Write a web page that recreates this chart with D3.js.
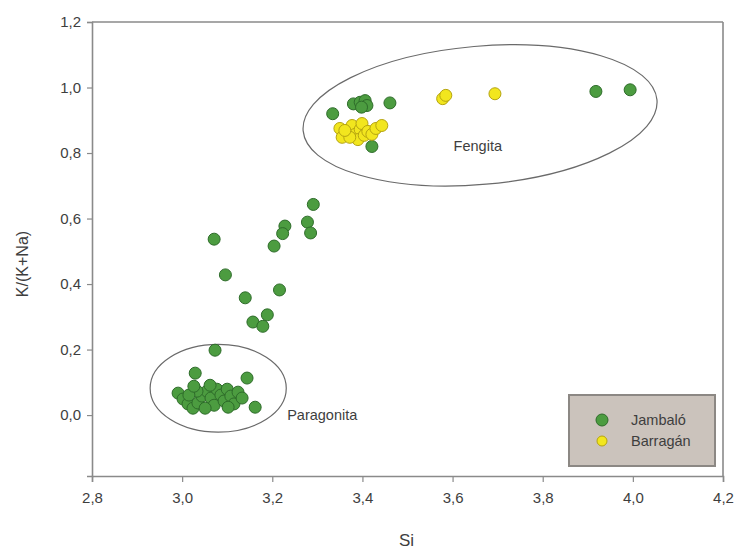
<!DOCTYPE html>
<html>
<head>
<meta charset="utf-8">
<script src="https://cdn.jsdelivr.net/npm/d3@7"></script>
<style>
  html, body { margin: 0; padding: 0; background: #fff; }
  svg { display: block; font-family: "Liberation Sans", Arial, sans-serif; }
  .tick text { font-size: 15px; font-family: "Liberation Sans", Arial, sans-serif; }
</style>
</head>
<body>
<svg id="chart" width="740" height="552"></svg>
<script>
// Si vs K/(K+Na) for white micas, two localities
const jambaloSi = [
  3.291, 3.228, 3.223, 3.278, 3.285, 3.071, 3.204, 3.096, 3.216, 3.140, 3.189, 3.157, 3.179,
  3.334, 3.380, 3.395, 3.406, 3.410, 3.398, 3.461, 3.421, 3.918, 3.994,
  2.991, 3.002, 3.013, 3.024, 3.035, 3.044, 3.055, 3.064, 3.071, 3.077, 3.086, 3.093, 3.100,
  3.108, 3.115, 3.124, 3.133, 3.033, 3.051, 3.015, 3.102, 3.062, 3.026,
  3.073, 3.029, 3.144, 3.162
];
const jambaloK = [
  0.643, 0.577, 0.554, 0.589, 0.556, 0.537, 0.516, 0.428, 0.382, 0.358, 0.306, 0.284, 0.271,
  0.920, 0.950, 0.955, 0.960, 0.945, 0.940, 0.953, 0.820, 0.988, 0.993,
  0.067, 0.049, 0.034, 0.021, 0.037, 0.058, 0.073, 0.052, 0.030, 0.079, 0.061, 0.043, 0.079,
  0.058, 0.034, 0.070, 0.052, 0.073, 0.021, 0.061, 0.024, 0.091, 0.088,
  0.198, 0.128, 0.113, 0.024
];
const barraganSi = [
  3.350, 3.355, 3.368, 3.377, 3.384, 3.395, 3.399, 3.390, 3.404, 3.412, 3.421, 3.430, 3.443,
  3.372, 3.361, 3.578, 3.585, 3.694
];
const barraganK = [
  0.875, 0.848, 0.866, 0.884, 0.857, 0.872, 0.890, 0.841, 0.854, 0.866, 0.857, 0.875, 0.884,
  0.848, 0.869, 0.966, 0.976, 0.981
];

const seriesNames = ["Jambaló", "Barragán"];
const xTicks = [2.8, 3.0, 3.2, 3.4, 3.6, 3.8, 4.0, 4.2];
const yTicks = [0.0, 0.2, 0.4, 0.6, 0.8, 1.0, 1.2];

// Field outlines: centre (Si, K/(K+Na)), half-widths, tilt in degrees
const fieldNames = ["Paragonita", "Fengita"];
const fieldCx = [3.080, 3.661];
const fieldCy = [0.082, 0.915];
const fieldRx = [0.151, 0.394];
const fieldRy = [0.134, 0.211];
const fieldTilt = [0, -5];
const fieldLabelX = [3.233, 3.656];
const fieldLabelY = [0.0, 0.82];

const svg = d3.select("#chart");
const plotLeft = 92, plotRight = 723, plotTop = 22, plotBottom = 476;

const x = d3.scaleLinear().domain([2.8, 4.2]).range([plotLeft, plotRight]);
const y = d3.scaleLinear().domain([-0.186, 1.2]).range([plotBottom, plotTop]);

const axisColor = "#8a8a8a";
const textColor = "#3e3e3e";
const fmt = d => d3.format(".1f")(d).replace(".", ",");

// Frame (top and right)
svg.append("line").attr("x1", plotLeft).attr("x2", plotRight).attr("y1", plotTop).attr("y2", plotTop)
  .attr("stroke", axisColor).attr("stroke-width", 1.6);
svg.append("line").attr("x1", plotRight).attr("x2", plotRight).attr("y1", plotTop).attr("y2", plotBottom)
  .attr("stroke", axisColor).attr("stroke-width", 1.6);

// Axes
const gx = svg.append("g").attr("transform", `translate(0,${plotBottom})`)
  .call(d3.axisBottom(x).tickValues(xTicks).tickFormat(fmt).tickSize(6).tickPadding(10));
const gy = svg.append("g").attr("transform", `translate(${plotLeft},0)`)
  .call(d3.axisLeft(y).tickValues(yTicks).tickFormat(fmt).tickSize(5).tickPadding(6));
[gx, gy].forEach(g => {
  g.attr("font-size", null).attr("font-family", null);
  g.select(".domain").attr("stroke", axisColor).attr("stroke-width", 1.6);
  g.selectAll(".tick line").attr("stroke", axisColor).attr("stroke-width", 1.2);
  g.selectAll(".tick text").attr("fill", textColor);
});

// Axis titles
svg.append("text").attr("x", (plotLeft + plotRight) / 2 - 1).attr("y", 546)
  .attr("text-anchor", "middle").attr("fill", textColor).attr("font-size", 17).text("Si");
svg.append("text").attr("transform", `translate(28,264) rotate(-90)`)
  .attr("text-anchor", "middle").attr("fill", textColor).attr("font-size", 16).text("K/(K+Na)");

// Field ellipses
fieldNames.forEach((name, i) => {
  const cx = x(fieldCx[i]), cy = y(fieldCy[i]);
  svg.append("ellipse")
    .attr("cx", cx).attr("cy", cy)
    .attr("rx", x(fieldCx[i] + fieldRx[i]) - cx)
    .attr("ry", cy - y(fieldCy[i] + fieldRy[i]))
    .attr("transform", `rotate(${fieldTilt[i]},${cx},${cy})`)
    .attr("fill", "none").attr("stroke", "#6a6a6a").attr("stroke-width", 1.2);
  svg.append("text")
    .attr("x", x(fieldLabelX[i])).attr("y", y(fieldLabelY[i]) + 5)
    .attr("text-anchor", i === 0 ? "start" : "middle")
    .attr("fill", textColor).attr("font-size", 14.5).text(name);
});

// Points
const styles = [
  { fill: "#4c9c40", stroke: "#2e6c2a" },
  { fill: "#f2e61e", stroke: "#b5a410" }
];
const series = [
  d3.zip(jambaloSi, jambaloK),
  d3.zip(barraganSi, barraganK)
];
series.forEach((pts, i) => {
  svg.append("g").selectAll("circle").data(pts).join("circle")
    .attr("cx", d => x(d[0])).attr("cy", d => y(d[1])).attr("r", 6)
    .attr("fill", styles[i].fill).attr("stroke", styles[i].stroke).attr("stroke-width", 1);
});

// Legend
const lg = svg.append("g");
lg.append("rect").attr("x", 569).attr("y", 395).attr("width", 146).attr("height", 71)
  .attr("fill", "#cbc3bc").attr("stroke", "#8c8884").attr("stroke-width", 2);
seriesNames.forEach((name, i) => {
  const yy = 420 + i * 21;
  lg.append("circle").attr("cx", 602).attr("cy", yy).attr("r", i === 0 ? 6 : 5)
    .attr("fill", styles[i].fill).attr("stroke", styles[i].stroke).attr("stroke-width", 1);
  lg.append("text").attr("x", 631).attr("y", yy + 5).attr("fill", textColor)
    .attr("font-size", 14.5).text(name);
});
</script>
</body>
</html>
